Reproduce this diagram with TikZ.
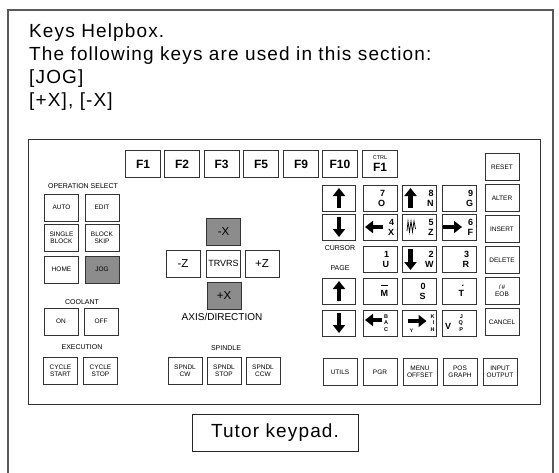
\documentclass[tikz,border=0pt]{standalone}
\usepackage{fontspec}
\setmainfont{Liberation Sans}
\usetikzlibrary{arrows.meta,positioning}

\newcommand{\keyfs}{\fontsize{6.5}{7}\selectfont}

\tikzset{
  keybox/.style={draw=black!80, line width=0.8pt, fill=white, minimum width=34pt, minimum height=27pt, inner sep=1pt, align=center, font=\keyfs},
  graykey/.style={keybox, fill=black!45},
  fkey/.style={keybox, minimum width=35pt, font=\fontsize{12}{12}\selectfont\bfseries},
  bigkey/.style={keybox, font=\fontsize{11.5}{12}\selectfont},
  gridkey/.style={keybox, minimum height=26pt},
  numkey/.style={gridkey, align=right, inner xsep=0pt, text width=#1, font=\fontsize{9}{10}\selectfont\bfseries},
  numkey/.default=28pt,
  stackkey/.style={gridkey, align=right, inner xsep=0pt, text width=#1, font=\fontsize{5.5}{6.5}\selectfont\bfseries},
  padlabel/.style={inner sep=0pt, font=\fontsize{7}{8}\selectfont},
  headtext/.style={inner sep=0pt, font=\fontsize{19}{23}\selectfont\addfontfeature{LetterSpace=6}},
  keyarrow/.style={line width=4.5pt, -{Triangle[length=8pt, width=12pt]}},
}

\begin{document}
\begin{tikzpicture}[x=1pt, y=-1pt]
  \useasboundingbox (0,0) rectangle (559,473);
  % frame
  \draw[black!65, line width=1.5pt] (8,473) -- (8,10) -- (553,10) -- (553,473);
  % help text
  \foreach \t [count=\i] in {Keys Helpbox., The following keys are used in this section:, {[JOG]}, {[+X], [-X]}}
    \node[headtext, anchor=base west] (help\i) at (29,14.5+23*\i) {\t};

  % keypad
  \draw[black!80, line width=1pt] (28,140) rectangle (540,404);

  % function keys
  \foreach \x/\n/\t in {143/f1/F1, 182/f2/F2, 221.5/f3/F3, 261/f5/F5, 301/f9/F9, 340/f10/F10}
    \node[fkey] (\n) at (\x,164) {\t};
  \node[fkey] (ctrlf1) at (380,164) {{\fontsize{5.5}{6}\selectfont\mdseries CTRL}\\F1};

  % operation select
  \node[padlabel] (opsel) at (83,186) {OPERATION SELECT};
  \foreach \x/\y/\n/\t in {61.5/207.5/auto/AUTO, 102/207.5/edit/EDIT, 61.5/238/single/SINGLE\\BLOCK, 102/238/skip/BLOCK\\SKIP, 61.5/269.5/home/HOME}
    \node[keybox] (\n) at (\x,\y) {\t};
  \node[graykey] (jog) at (102,269.5) {JOG};

  % coolant, execution
  \node[padlabel] (coolant) at (82,302) {COOLANT};
  \node[keybox] (on) at (61,321.5) {ON};
  \node[keybox] (off) at (101,321.5) {OFF};
  \node[padlabel] (exec) at (82,347) {EXECUTION};
  \node[keybox] (cstart) at (60.5,371) {CYCLE\\START};
  \node[keybox] (cstop) at (100.5,371) {CYCLE\\STOP};

  % axis/direction
  \node[graykey, font=\fontsize{11.5}{12}\selectfont] (mx) at (223.5,232) {-X};
  \node[bigkey] (mz) at (183,263.5) {-Z};
  \node[keybox, inner sep=0pt, font=\fontsize{9}{10}\selectfont] (trvrs) at (223.5,263.5) {TRVRS};
  \node[bigkey] (pz) at (262,263.5) {+Z};
  \node[graykey, font=\fontsize{11.5}{12}\selectfont] (px) at (224,295.5) {+X};
  \node[inner sep=0pt, font=\fontsize{10}{11}\selectfont] (axis) at (222,317) {AXIS/DIRECTION};

  % spindle
  \node[padlabel] (spindle) at (226,348) {SPINDLE};
  \foreach \x/\n/\t in {185/cw/SPNDL\\CW, 224/stop/SPNDL\\STOP, 263/ccw/SPNDL\\CCW}
    \node[keybox] (\n) at (\x,371) {\t};

  % cursor and page
  \foreach \y/\n in {198/curup, 227/curdn, 291/pgup, 323/pgdn}
    \node[gridkey, minimum width=33pt] (\n) at (339,\y) {};
  \node[padlabel] (cursor) at (340,248) {CURSOR};
  \node[padlabel] (page) at (340,268) {PAGE};
  \foreach \n in {curup, pgup}
    \draw[keyarrow] ([yshift=-10pt]\n.center) -- ([yshift=10pt]\n.center);
  \foreach \n in {curdn, pgdn}
    \draw[keyarrow] ([yshift=10pt]\n.center) -- ([yshift=-10pt]\n.center);

  % letter and number keys
  \node[numkey=10pt] (k7) at (380,198) {7\\O};
  \node[numkey] (k8) at (419.5,198) {8\\N};
  \node[numkey] (k9) at (459,198) {9\\G};
  \node[numkey] (k4) at (380,227) {4\\X};
  \node[numkey] (k5) at (419.5,227) {5\\Z};
  \node[numkey] (k6) at (459,227) {6\\F};
  \node[numkey=18pt] (k1) at (380,259) {1\\U};
  \node[numkey] (k2) at (419.5,259) {2\\W};
  \node[numkey=20pt] (k3) at (459,259) {3\\R};
  \node[numkey=16pt] (km) at (380,291) {\rule[1pt]{7pt}{0.8pt}\\M};
  \node[numkey=12pt] (k0) at (419.5,291) {0\\S};
  \node[numkey=10pt] (kdot) at (459,291) {.\\T};
  \node[stackkey=16pt] (kbac) at (380,323) {B\\A\\C};
  \node[stackkey=30pt] (kkih) at (419.5,323) {K\\I\\H};
  \node[stackkey=8pt] (kvjqp) at (459,323) {J\\Q\\P};
  \node[inner sep=0pt, font=\fontsize{5}{5}\selectfont\bfseries] (ylab) at ([shift={(-8pt,-8pt)}]kkih.center) {Y};
  \node[inner sep=0pt, font=\fontsize{9}{9}\selectfont\bfseries] (vlab) at ([shift={(-11pt,-3pt)}]kvjqp.center) {V};

  \draw[keyarrow] ([shift={(-9pt,-10pt)}]k8.center) -- ([shift={(-9pt,10pt)}]k8.center);
  \draw[keyarrow] ([shift={(-9pt,10pt)}]k2.center) -- ([shift={(-9pt,-11pt)}]k2.center);
  \draw[keyarrow] ([xshift=3pt]k4.center) -- ([xshift=-15pt]k4.center);
  \draw[keyarrow] ([xshift=-16pt]k6.center) -- ([xshift=3pt]k6.center);
  \draw[keyarrow] ([shift={(2pt,3pt)}]kbac.center) -- ([shift={(-15pt,3pt)}]kbac.center);
  \draw[keyarrow] ([shift={(-12pt,2pt)}]kkih.center) -- ([shift={(7pt,2pt)}]kkih.center);
  \draw[line width=0.7pt] ([shift={(-12.5pt,-4pt)}]k5.center) -- ++(1pt,10pt) -- ++(1.5pt,-11pt)
    -- ++(1.5pt,11pt) -- ++(1.5pt,-11pt) -- ++(1.5pt,11pt) -- ++(1.5pt,-8pt);

  % edit keys
  \foreach \y/\n/\t in {167/reset/RESET, 198/alter/ALTER, 229/insert/INSERT, 260/delete/DELETE, 322/cancel/CANCEL}
    \node[keybox] (\n) at (502,\y) {\t};
  \node[keybox] (eob) at (502,291) {/\,\#\\EOB};

  % bottom row
  \foreach \x/\n/\t in {340/utils/UTILS, 380/pgr/PGR, 420/menu/MENU\\OFFSET, 460/pos/POS\\GRAPH, 500/inout/INPUT\\OUTPUT}
    \node[keybox] (\n) at (\x,372) {\t};

  % caption
  \node[draw=black!85, line width=0.8pt, minimum width=166pt, minimum height=37pt, inner sep=0pt,
    font=\fontsize{19}{19}\selectfont\addfontfeature{LetterSpace=6}] (tutor) at (275,433) {Tutor keypad.};
\end{tikzpicture}
\end{document}
